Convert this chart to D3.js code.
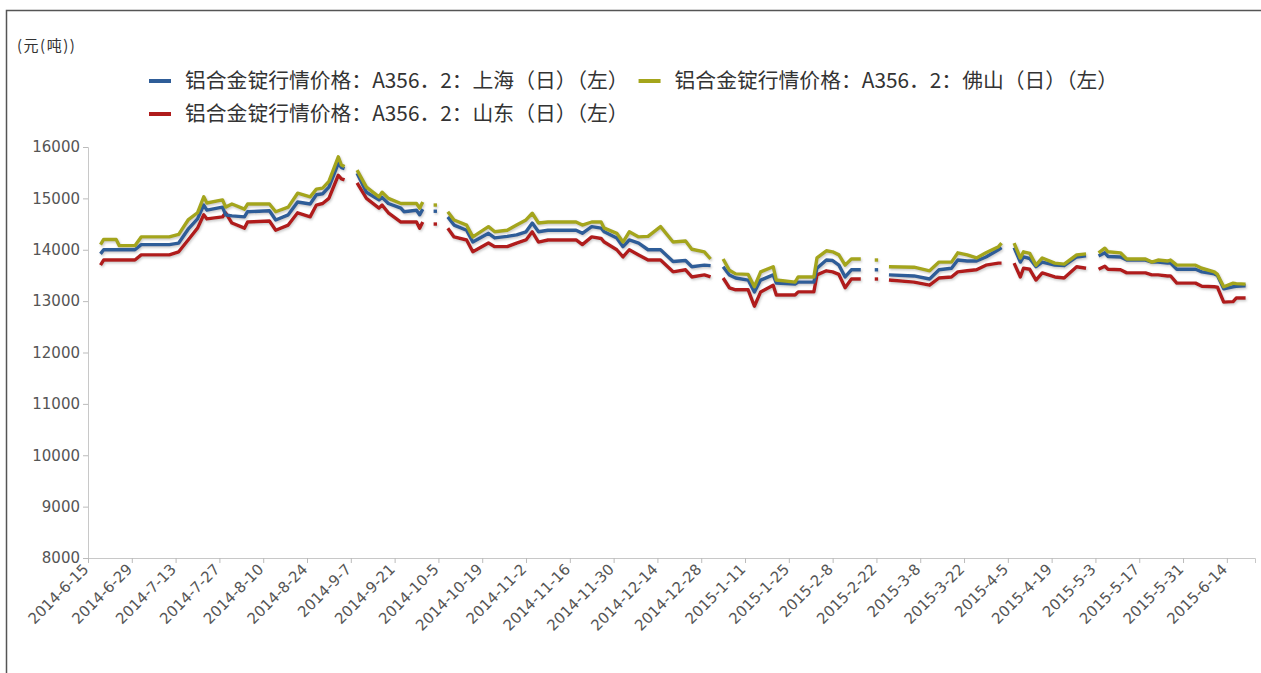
<!DOCTYPE html>
<html><head><meta charset="utf-8">
<script src="https://cdn.jsdelivr.net/npm/d3@7"></script>
<style>
html,body{margin:0;padding:0;background:#fff;}
svg{display:block;}
</style></head>
<body>
<svg id="chart" width="1261" height="673"></svg>
<script>
// ---------- DATA ----------
const dates = [
"2014-06-19","2014-06-20","2014-06-24","2014-06-25","2014-06-30","2014-07-02","2014-07-11","2014-07-14","2014-07-17","2014-07-20",
"2014-07-22","2014-07-23","2014-07-28","2014-07-29","2014-07-31","2014-08-04","2014-08-05","2014-08-12","2014-08-14","2014-08-18",
"2014-08-21","2014-08-25","2014-08-27","2014-08-29","2014-08-31","2014-09-03","2014-09-04","2014-09-05","2014-09-08","2014-09-09",
"2014-09-12","2014-09-16","2014-09-17","2014-09-19","2014-09-23","2014-09-24","2014-09-28","2014-09-29","2014-09-30","2014-10-01",
"2014-10-04","2014-10-06","2014-10-08","2014-10-10","2014-10-14","2014-10-16","2014-10-21","2014-10-23","2014-10-27","2014-10-30",
"2014-11-02","2014-11-04","2014-11-06","2014-11-09","2014-11-18","2014-11-20","2014-11-23","2014-11-26","2014-11-27","2014-12-01",
"2014-12-03","2014-12-05","2014-12-08","2014-12-11","2014-12-15","2014-12-19","2014-12-23","2014-12-25","2014-12-29","2014-12-31",
"2015-01-01","2015-01-04","2015-01-06","2015-01-08","2015-01-12","2015-01-14","2015-01-16","2015-01-20","2015-01-21","2015-01-27",
"2015-01-28","2015-02-02","2015-02-03","2015-02-06","2015-02-08","2015-02-10","2015-02-12","2015-02-14","2015-02-17","2015-02-18",
"2015-02-22","2015-02-23","2015-02-26","2015-03-06","2015-03-11","2015-03-14","2015-03-18","2015-03-20","2015-03-23","2015-03-26",
"2015-03-29","2015-04-02","2015-04-03","2015-04-04","2015-04-07","2015-04-09","2015-04-10","2015-04-12","2015-04-14","2015-04-16",
"2015-04-20","2015-04-23","2015-04-27","2015-04-30","2015-05-01","2015-05-04","2015-05-06","2015-05-07","2015-05-11","2015-05-13",
"2015-05-19","2015-05-21","2015-05-23","2015-05-26","2015-05-27","2015-05-29","2015-06-04","2015-06-06","2015-06-10","2015-06-11",
"2015-06-13","2015-06-16","2015-06-17","2015-06-20"
];
// 上海
const shanghai = [
13920,14000,14000,14000,14000,14100,14100,14130,14400,14600,
14870,14770,14830,14680,14660,14640,14740,14760,14580,14680,
14930,14890,15070,15090,15220,15680,15600,15580,null,15490,
15120,14970,15020,14900,14810,14740,14770,14680,14790,null,
14750,null,14640,14480,14380,14150,14320,14230,14260,14290,
14350,14520,14350,14380,14380,14320,14450,14420,14350,14230,
14060,14190,14130,14000,14000,13770,13790,13670,13700,13690,
null,13670,13510,13450,13410,13180,13410,13510,13350,13330,
13370,13370,13640,13800,13790,13700,13470,13610,13610,null,
13610,null,13510,13490,13430,13610,13640,13800,13780,13780,
13860,14000,14040,null,14040,13760,13860,13830,13670,13760,
13700,13690,13860,13880,null,13880,13940,13870,13860,13800,
13800,13760,13760,13740,13740,13620,13620,13570,13530,13500,
13240,13280,13290,13300
];
// 佛山
const foshan = [
14100,14200,14200,14080,14080,14250,14250,14300,14580,14720,
15030,14910,14970,14830,14890,14790,14890,14890,14740,14830,
15100,15030,15180,15200,15330,15810,15650,15620,null,15550,
15220,15030,15120,15000,14900,14900,14900,14810,14930,null,
14870,null,14740,14580,14480,14250,14450,14350,14380,14480,
14580,14710,14520,14540,14540,14480,14540,14540,14420,14320,
14150,14350,14250,14260,14450,14150,14170,14010,13960,13820,
null,13820,13600,13530,13520,13280,13570,13670,13410,13370,
13470,13470,13840,13980,13960,13900,13700,13820,13820,null,
13800,null,13670,13660,13590,13760,13760,13940,13900,13840,
13940,14060,14130,null,14130,13840,13960,13930,13700,13840,
13740,13720,13900,13920,null,13940,14030,13960,13940,13820,
13820,13760,13800,13780,13800,13700,13700,13640,13570,13520,
13280,13350,13340,13330
];
// 山东
const shandong = [
13700,13800,13800,13800,13800,13900,13900,13960,14190,14420,
14680,14600,14640,14720,14520,14420,14540,14560,14380,14480,
14720,14640,14870,14900,15000,15450,15380,15360,null,15300,
15000,14810,14870,14720,14540,14540,14540,14420,14540,null,
14500,null,14420,14250,14190,13960,14130,14060,14060,14130,
14190,14350,14150,14190,14190,14100,14250,14220,14150,14000,
13860,14000,13900,13800,13800,13570,13610,13470,13510,13470,
null,13450,13260,13220,13220,12900,13180,13310,13120,13120,
13180,13180,13510,13590,13570,13520,13260,13430,13430,null,
13430,null,13410,13370,13310,13450,13470,13570,13590,13610,
13700,13740,13740,null,13740,13470,13640,13620,13410,13550,
13470,13450,13670,13640,null,13620,13680,13620,13610,13550,
13550,13510,13510,13490,13490,13350,13350,13290,13280,13270,
12980,12990,13060,13060
];
const seriesNames = [
  "铝合金锭行情价格：A356．2：上海（日）（左）",
  "铝合金锭行情价格：A356．2：佛山（日）（左）",
  "铝合金锭行情价格：A356．2：山东（日）（左）"
];
const yTickValues = [8000,9000,10000,11000,12000,13000,14000,15000,16000];
const xTickLabels = [
"2014-6-15","2014-6-29","2014-7-13","2014-7-27","2014-8-10","2014-8-24","2014-9-7","2014-9-21","2014-10-5","2014-10-19",
"2014-11-2","2014-11-16","2014-11-30","2014-12-14","2014-12-28","2015-1-11","2015-1-25","2015-2-8","2015-2-22","2015-3-8",
"2015-3-22","2015-4-5","2015-4-19","2015-5-3","2015-5-17","2015-5-31","2015-6-14"
];
const unitLabel = "(元(吨))";

// ---------- STYLE / LAYOUT ----------
const colors = {sh:"#2f5d98", fs:"#a4a51b", sd:"#b01c1c"};
const W = 1261, H = 673;
const plot = {left:88, right:1255, top:147, bottom:558};
const axisFont = "'DejaVu Sans', Verdana, sans-serif";

const parse = d3.timeParse("%Y-%m-%d");
const parseTick = d3.timeParse("%Y-%-m-%-d");
const fmt = d3.timeFormat("%Y-%-m-%-d");

const svg = d3.select("#chart");

// frame
svg.append("path").attr("d", `M6.5,${H} V10.5 H${W}`)
  .attr("fill","none").attr("stroke","#555").attr("stroke-width",1.5);

// shadow filter
const defs = svg.append("defs");
const f = defs.append("filter").attr("id","sh").attr("x","-5%").attr("y","-20%").attr("width","110%").attr("height","140%");
f.append("feDropShadow").attr("dx",1).attr("dy",1.5).attr("stdDeviation",1.2)
  .attr("flood-color","#888").attr("flood-opacity",0.45);

const x = d3.scaleTime().domain([parse("2014-06-15"), parse("2015-06-23")]).range([plot.left, plot.right]);
const y = d3.scaleLinear().domain([8000,16000]).range([plot.bottom, plot.top]);

// y axis
const yAxis = svg.append("g").attr("transform",`translate(${plot.left},0)`)
  .call(d3.axisLeft(y).tickValues(yTickValues).tickSize(5).tickPadding(3).tickFormat(d3.format("d")));
yAxis.select(".domain").attr("stroke","#c8c8c8");
yAxis.selectAll(".tick line").attr("stroke","#bbb");
yAxis.selectAll("text").attr("fill","#555").style("font-family",axisFont).style("font-size","15px");

// x axis
const xAxis = svg.append("g").attr("transform",`translate(0,${plot.bottom})`)
  .call(d3.axisBottom(x).tickValues(xTickLabels.map(parseTick)).tickSize(5).tickFormat(fmt));
xAxis.select(".domain").attr("stroke","#c8c8c8");
xAxis.selectAll(".tick line").attr("stroke","#bbb");
xAxis.selectAll("text")
  .attr("fill","#555").style("font-family",axisFont).style("font-size","15px")
  .attr("text-anchor","end").attr("x",-8).attr("y",4).attr("dy","0.35em")
  .attr("transform","rotate(-45)");

// unit label
svg.append("text").attr("x",17).attr("y",51).text(unitLabel)
  .attr("fill","#333").style("font-family","'Noto Sans CJK SC', sans-serif")
  .style("font-size","15px").style("letter-spacing","1.5px");

// lines
const series = [
  {key:"sh", values:shanghai, name:seriesNames[0]},
  {key:"fs", values:foshan, name:seriesNames[1]},
  {key:"sd", values:shandong, name:seriesNames[2]}
];
const line = d3.line()
  .defined(d => d.v != null)
  .x(d => x(d.t)).y(d => y(d.v));

const drawOrder = ["sd","sh","fs"];
const lg = svg.append("g").attr("filter","url(#sh)");
drawOrder.forEach(k => {
  const s = series.find(s => s.key === k);
  const pts = dates.map((d,i) => ({t:parse(d), v:s.values[i]}));
  lg.append("path").datum(pts).attr("d", line)
    .attr("fill","none").attr("stroke", colors[k]).attr("stroke-width",3.4)
    .attr("stroke-linejoin","round");
  const iso = pts.filter((p,i) => p.v != null && (i===0 || pts[i-1].v==null) && (i===pts.length-1 || pts[i+1].v==null));
  lg.selectAll(null).data(iso).enter().append("rect")
    .attr("x", d => x(d.t)-1.7).attr("y", d => y(d.v)-1.7).attr("width",3.4).attr("height",3.4)
    .attr("fill", colors[k]);
});

// legend
const legendFont = "'Noto Sans CJK SC', sans-serif";
const legendSize = 20.8;
const rows = [[series[0], series[1]], [series[2]]];
const rowY = [81, 114];
rows.forEach((row, ri) => {
  let cx = 149;
  row.forEach(s => {
    const g = svg.append("g");
    g.append("line").attr("x1",cx).attr("x2",cx+22).attr("y1",rowY[ri]).attr("y2",rowY[ri])
      .attr("stroke",colors[s.key]).attr("stroke-width",4);
    const t = g.append("text").attr("x",cx+36).attr("y",rowY[ri]).attr("dy","0.35em")
      .text(s.name).attr("fill","#333").style("font-family",legendFont).style("font-size",legendSize+"px");
    cx = cx + 36 + t.node().getComputedTextLength() + 10;
  });
});
</script>
</body></html>
